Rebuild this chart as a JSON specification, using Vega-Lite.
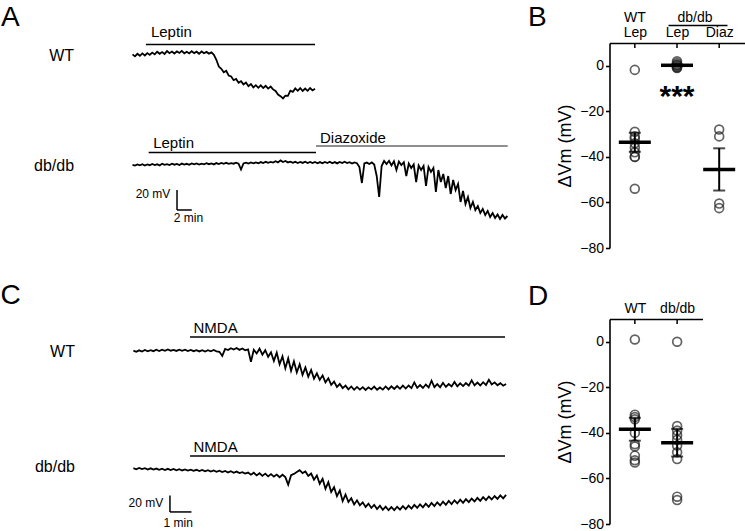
{
"$schema": "https://vega.github.io/schema/vega-lite/v6.json",
"padding": 0,
"background": "white",
"config": {
  "font": "Liberation Sans",
  "view": {"stroke": null},
  "axis": {"labelFont": "Liberation Sans", "titleFont": "Liberation Sans"},
  "text": {"font": "Liberation Sans", "color": "black"}
},
"datasets": {
  "aWT": [{"t":0,"v":0.6},{"t":20,"v":-1.4},{"t":40,"v":1.2},{"t":60,"v":-0.8},{"t":80,"v":1.6},{"t":100,"v":-0.5},{"t":120,"v":1.9},{"t":140,"v":0.1},{"t":160,"v":2.4},{"t":180,"v":0.6},{"t":200,"v":3.3},{"t":220,"v":1.2},{"t":240,"v":3.0},{"t":260,"v":1.1},{"t":280,"v":3.9},{"t":300,"v":1.8},{"t":320,"v":3.4},{"t":340,"v":1.5},{"t":360,"v":3.6},{"t":380,"v":2.0},{"t":400,"v":4.1},{"t":420,"v":1.7},{"t":440,"v":3.2},{"t":460,"v":1.6},{"t":480,"v":3.8},{"t":500,"v":1.9},{"t":520,"v":3.3},{"t":540,"v":1.2},{"t":560,"v":3.5},{"t":580,"v":1.8},{"t":600,"v":3.1},{"t":620,"v":1.4},{"t":640,"v":2.6},{"t":660,"v":0.2},{"t":680,"v":-4.8},{"t":700,"v":-11.6},{"t":720,"v":-13.8},{"t":740,"v":-17.2},{"t":760,"v":-15.8},{"t":780,"v":-20.6},{"t":800,"v":-21.4},{"t":820,"v":-25.2},{"t":840,"v":-24.0},{"t":860,"v":-27.8},{"t":880,"v":-26.2},{"t":900,"v":-29.4},{"t":920,"v":-27.6},{"t":940,"v":-31.2},{"t":960,"v":-29.0},{"t":980,"v":-32.4},{"t":1000,"v":-30.2},{"t":1020,"v":-32.8},{"t":1040,"v":-30.4},{"t":1060,"v":-33.0},{"t":1080,"v":-30.8},{"t":1100,"v":-33.6},{"t":1120,"v":-31.6},{"t":1140,"v":-34.4},{"t":1160,"v":-36.0},{"t":1180,"v":-39.6},{"t":1200,"v":-41.2},{"t":1220,"v":-43.4},{"t":1240,"v":-40.6},{"t":1260,"v":-40.8},{"t":1280,"v":-35.6},{"t":1300,"v":-36.8},{"t":1320,"v":-33.4},{"t":1340,"v":-35.8},{"t":1360,"v":-33.2},{"t":1380,"v":-36.0},{"t":1400,"v":-33.6},{"t":1420,"v":-35.8},{"t":1440,"v":-33.0},{"t":1460,"v":-35.4},{"t":1480,"v":-33.8}],
  "aDB": [{"t":0,"v":-0.8},{"t":20,"v":-1.6},{"t":40,"v":-0.4},{"t":60,"v":-1.3},{"t":80,"v":-0.2},{"t":100,"v":-1.5},{"t":120,"v":-0.5},{"t":140,"v":-1.2},{"t":160,"v":0.0},{"t":180,"v":-1.0},{"t":200,"v":-0.3},{"t":220,"v":-1.4},{"t":240,"v":0.2},{"t":260,"v":-0.9},{"t":280,"v":-0.1},{"t":300,"v":-1.1},{"t":320,"v":0.3},{"t":340,"v":-0.7},{"t":360,"v":0.1},{"t":380,"v":-1.0},{"t":400,"v":0.4},{"t":420,"v":-0.6},{"t":440,"v":0.2},{"t":460,"v":-0.8},{"t":480,"v":0.5},{"t":500,"v":-0.4},{"t":520,"v":0.6},{"t":540,"v":-0.6},{"t":560,"v":0.3},{"t":580,"v":-0.3},{"t":600,"v":0.8},{"t":620,"v":-0.2},{"t":640,"v":0.6},{"t":660,"v":-0.4},{"t":680,"v":0.9},{"t":700,"v":0.0},{"t":720,"v":1.0},{"t":740,"v":0.1},{"t":760,"v":1.2},{"t":780,"v":0.2},{"t":800,"v":0.9},{"t":820,"v":0.3},{"t":840,"v":1.3},{"t":860,"v":0.4},{"t":880,"v":-5.5},{"t":900,"v":0.6},{"t":920,"v":1.4},{"t":940,"v":0.5},{"t":960,"v":1.6},{"t":980,"v":0.7},{"t":1000,"v":1.5},{"t":1020,"v":0.8},{"t":1040,"v":1.9},{"t":1060,"v":0.9},{"t":1080,"v":2.2},{"t":1100,"v":1.2},{"t":1120,"v":2.0},{"t":1140,"v":1.4},{"t":1160,"v":2.8},{"t":1180,"v":1.6},{"t":1200,"v":3.6},{"t":1220,"v":2.0},{"t":1240,"v":3.0},{"t":1260,"v":1.6},{"t":1280,"v":2.4},{"t":1300,"v":1.2},{"t":1320,"v":2.2},{"t":1340,"v":1.0},{"t":1360,"v":2.0},{"t":1380,"v":1.1},{"t":1400,"v":2.3},{"t":1420,"v":1.0},{"t":1440,"v":2.1},{"t":1460,"v":0.9},{"t":1480,"v":2.0},{"t":1500,"v":0.8},{"t":1520,"v":1.9},{"t":1540,"v":0.7},{"t":1560,"v":2.1},{"t":1580,"v":1.0},{"t":1600,"v":2.3},{"t":1620,"v":0.8},{"t":1640,"v":1.9},{"t":1660,"v":0.6},{"t":1680,"v":2.0},{"t":1700,"v":0.9},{"t":1720,"v":2.2},{"t":1740,"v":1.0},{"t":1760,"v":1.8},{"t":1780,"v":0.4},{"t":1800,"v":1.6},{"t":1820,"v":0.8},{"t":1840,"v":-3.0},{"t":1860,"v":-19.0},{"t":1880,"v":0.5},{"t":1900,"v":1.4},{"t":1920,"v":0.0},{"t":1940,"v":1.6},{"t":1960,"v":-0.5},{"t":1980,"v":-12.0},{"t":2000,"v":-33.0},{"t":2020,"v":-2.0},{"t":2040,"v":3.0},{"t":2060,"v":0.0},{"t":2080,"v":3.2},{"t":2100,"v":-1.5},{"t":2120,"v":2.8},{"t":2140,"v":-6.0},{"t":2160,"v":2.4},{"t":2180,"v":-1.0},{"t":2200,"v":1.8},{"t":2220,"v":-12.0},{"t":2240,"v":0.5},{"t":2260,"v":-4.0},{"t":2280,"v":-0.5},{"t":2300,"v":-18.0},{"t":2320,"v":-1.5},{"t":2340,"v":-6.0},{"t":2360,"v":-2.0},{"t":2380,"v":-22.0},{"t":2400,"v":-3.0},{"t":2420,"v":-8.0},{"t":2440,"v":-4.0},{"t":2460,"v":-28.0},{"t":2480,"v":-6.0},{"t":2500,"v":-18.0},{"t":2520,"v":-10.0},{"t":2540,"v":-24.0},{"t":2560,"v":-12.0},{"t":2580,"v":-30.0},{"t":2600,"v":-16.0},{"t":2620,"v":-26.0},{"t":2640,"v":-20.0},{"t":2660,"v":-38.0},{"t":2680,"v":-27.0},{"t":2700,"v":-40.0},{"t":2720,"v":-33.0},{"t":2740,"v":-44.0},{"t":2760,"v":-38.0},{"t":2780,"v":-46.0},{"t":2800,"v":-42.0},{"t":2820,"v":-49.0},{"t":2840,"v":-45.0},{"t":2860,"v":-51.0},{"t":2880,"v":-47.0},{"t":2900,"v":-53.0},{"t":2920,"v":-49.0},{"t":2940,"v":-54.0},{"t":2960,"v":-50.5},{"t":2980,"v":-55.0},{"t":3000,"v":-51.0},{"t":3020,"v":-54.5},{"t":3040,"v":-52.0}],
  "cWT": [{"t":0,"v":0.5},{"t":8,"v":-1.0},{"t":16,"v":0.8},{"t":24,"v":-0.6},{"t":32,"v":1.2},{"t":40,"v":-0.4},{"t":48,"v":1.0},{"t":56,"v":-0.2},{"t":64,"v":1.5},{"t":72,"v":0.0},{"t":80,"v":1.6},{"t":88,"v":0.2},{"t":96,"v":1.8},{"t":104,"v":0.4},{"t":112,"v":1.4},{"t":120,"v":0.1},{"t":128,"v":1.7},{"t":136,"v":0.3},{"t":144,"v":1.5},{"t":152,"v":0.0},{"t":160,"v":1.3},{"t":168,"v":-0.2},{"t":176,"v":1.1},{"t":184,"v":-0.5},{"t":192,"v":1.0},{"t":200,"v":-0.6},{"t":208,"v":0.9},{"t":216,"v":-0.3},{"t":224,"v":1.2},{"t":232,"v":-0.4},{"t":240,"v":-1.0},{"t":248,"v":-6.0},{"t":256,"v":2.5},{"t":264,"v":1.2},{"t":272,"v":3.4},{"t":280,"v":1.8},{"t":288,"v":3.6},{"t":296,"v":1.4},{"t":304,"v":3.0},{"t":312,"v":0.8},{"t":320,"v":2.0},{"t":328,"v":-13.0},{"t":336,"v":1.5},{"t":344,"v":-3.0},{"t":352,"v":2.8},{"t":360,"v":-4.5},{"t":368,"v":1.0},{"t":376,"v":-7.0},{"t":384,"v":-1.5},{"t":392,"v":-12.0},{"t":400,"v":-2.0},{"t":408,"v":-16.0},{"t":416,"v":-6.5},{"t":424,"v":-21.0},{"t":432,"v":-9.0},{"t":440,"v":-24.0},{"t":448,"v":-12.5},{"t":456,"v":-26.0},{"t":464,"v":-16.0},{"t":472,"v":-29.0},{"t":480,"v":-20.0},{"t":488,"v":-31.0},{"t":496,"v":-23.0},{"t":504,"v":-33.5},{"t":512,"v":-27.0},{"t":520,"v":-35.0},{"t":528,"v":-29.5},{"t":536,"v":-38.0},{"t":544,"v":-33.0},{"t":552,"v":-41.0},{"t":560,"v":-37.0},{"t":568,"v":-43.5},{"t":576,"v":-40.0},{"t":584,"v":-45.0},{"t":592,"v":-42.0},{"t":600,"v":-46.5},{"t":608,"v":-43.0},{"t":616,"v":-47.0},{"t":624,"v":-43.5},{"t":632,"v":-46.8},{"t":640,"v":-43.8},{"t":648,"v":-47.2},{"t":656,"v":-44.0},{"t":664,"v":-46.5},{"t":672,"v":-43.2},{"t":680,"v":-47.0},{"t":688,"v":-44.2},{"t":696,"v":-46.8},{"t":704,"v":-43.0},{"t":712,"v":-46.5},{"t":720,"v":-42.8},{"t":728,"v":-46.0},{"t":736,"v":-42.5},{"t":744,"v":-45.8},{"t":752,"v":-42.0},{"t":760,"v":-45.5},{"t":768,"v":-41.8},{"t":776,"v":-45.0},{"t":784,"v":-38.0},{"t":792,"v":-44.6},{"t":800,"v":-41.2},{"t":808,"v":-44.8},{"t":816,"v":-40.6},{"t":824,"v":-44.2},{"t":832,"v":-36.0},{"t":840,"v":-43.8},{"t":848,"v":-40.2},{"t":856,"v":-44.0},{"t":864,"v":-38.5},{"t":872,"v":-43.5},{"t":880,"v":-40.0},{"t":888,"v":-43.0},{"t":896,"v":-37.5},{"t":904,"v":-42.8},{"t":912,"v":-39.2},{"t":920,"v":-42.5},{"t":928,"v":-38.8},{"t":936,"v":-42.0},{"t":944,"v":-35.5},{"t":952,"v":-41.6},{"t":960,"v":-38.2},{"t":968,"v":-41.8},{"t":976,"v":-37.8},{"t":984,"v":-41.2},{"t":992,"v":-35.0},{"t":1000,"v":-40.6},{"t":1008,"v":-38.0},{"t":1016,"v":-41.5},{"t":1024,"v":-39.0},{"t":1032,"v":-42.0},{"t":1040,"v":-40.0}],
  "cDB": [{"t":0,"v":1.0},{"t":8,"v":-0.4},{"t":16,"v":1.2},{"t":24,"v":-0.2},{"t":32,"v":0.9},{"t":40,"v":-0.6},{"t":48,"v":0.8},{"t":56,"v":-0.8},{"t":64,"v":0.5},{"t":72,"v":-1.0},{"t":80,"v":0.4},{"t":88,"v":-1.2},{"t":96,"v":0.2},{"t":104,"v":-1.3},{"t":112,"v":0.0},{"t":120,"v":-1.6},{"t":128,"v":-0.2},{"t":136,"v":-1.8},{"t":144,"v":-0.5},{"t":152,"v":-2.0},{"t":160,"v":-0.8},{"t":168,"v":-2.2},{"t":176,"v":-1.0},{"t":184,"v":-2.6},{"t":192,"v":-1.2},{"t":200,"v":-2.8},{"t":208,"v":-1.5},{"t":216,"v":-3.2},{"t":224,"v":-1.8},{"t":232,"v":-3.4},{"t":240,"v":-2.0},{"t":248,"v":-3.8},{"t":256,"v":-2.4},{"t":264,"v":-4.2},{"t":272,"v":-2.8},{"t":280,"v":-4.6},{"t":288,"v":-3.2},{"t":296,"v":-5.0},{"t":304,"v":-3.8},{"t":312,"v":-5.6},{"t":320,"v":-4.4},{"t":328,"v":-7.0},{"t":336,"v":-4.6},{"t":344,"v":-7.8},{"t":352,"v":-5.2},{"t":360,"v":-8.4},{"t":368,"v":-5.6},{"t":376,"v":-9.0},{"t":384,"v":-6.2},{"t":392,"v":-9.2},{"t":400,"v":-6.8},{"t":408,"v":-10.0},{"t":416,"v":-7.0},{"t":424,"v":-9.8},{"t":432,"v":-19.0},{"t":440,"v":-7.5},{"t":448,"v":-6.0},{"t":456,"v":-3.8},{"t":464,"v":-1.5},{"t":472,"v":-5.0},{"t":480,"v":-3.0},{"t":488,"v":-8.5},{"t":496,"v":-5.5},{"t":504,"v":-13.0},{"t":512,"v":-8.0},{"t":520,"v":-18.0},{"t":528,"v":-12.0},{"t":536,"v":-24.0},{"t":544,"v":-16.0},{"t":552,"v":-28.0},{"t":560,"v":-22.0},{"t":568,"v":-33.0},{"t":576,"v":-26.0},{"t":584,"v":-39.0},{"t":592,"v":-31.0},{"t":600,"v":-40.0},{"t":608,"v":-35.5},{"t":616,"v":-43.0},{"t":624,"v":-38.0},{"t":632,"v":-44.0},{"t":640,"v":-40.5},{"t":648,"v":-46.0},{"t":656,"v":-42.0},{"t":664,"v":-47.2},{"t":672,"v":-43.5},{"t":680,"v":-48.6},{"t":688,"v":-44.5},{"t":696,"v":-49.5},{"t":704,"v":-45.6},{"t":712,"v":-50.0},{"t":720,"v":-46.2},{"t":728,"v":-49.8},{"t":736,"v":-45.8},{"t":744,"v":-49.2},{"t":752,"v":-45.0},{"t":760,"v":-48.6},{"t":768,"v":-44.4},{"t":776,"v":-48.0},{"t":784,"v":-43.6},{"t":792,"v":-47.2},{"t":800,"v":-42.8},{"t":808,"v":-46.6},{"t":816,"v":-42.0},{"t":824,"v":-45.8},{"t":832,"v":-41.2},{"t":840,"v":-45.0},{"t":848,"v":-40.4},{"t":856,"v":-44.2},{"t":864,"v":-39.6},{"t":872,"v":-43.4},{"t":880,"v":-38.8},{"t":888,"v":-42.6},{"t":896,"v":-38.0},{"t":904,"v":-41.8},{"t":912,"v":-37.2},{"t":920,"v":-41.0},{"t":928,"v":-36.5},{"t":936,"v":-40.2},{"t":944,"v":-35.8},{"t":952,"v":-39.4},{"t":960,"v":-35.0},{"t":968,"v":-38.6},{"t":976,"v":-34.2},{"t":984,"v":-37.8},{"t":992,"v":-33.4},{"t":1000,"v":-37.0},{"t":1008,"v":-32.8},{"t":1016,"v":-36.2},{"t":1024,"v":-32.0},{"t":1032,"v":-35.6},{"t":1040,"v":-31.5}],
  "B": [{"g":"WT Lep","dvm":-1.8},{"g":"WT Lep","dvm":-29},{"g":"WT Lep","dvm":-31},{"g":"WT Lep","dvm":-32},{"g":"WT Lep","dvm":-34},{"g":"WT Lep","dvm":-36},{"g":"WT Lep","dvm":-38},{"g":"WT Lep","dvm":-40},{"g":"WT Lep","dvm":-40},{"g":"WT Lep","dvm":-54},
        {"g":"db/db Lep","dvm":2},{"g":"db/db Lep","dvm":1.2},{"g":"db/db Lep","dvm":0.5},{"g":"db/db Lep","dvm":0},{"g":"db/db Lep","dvm":-0.5},{"g":"db/db Lep","dvm":-1},{"g":"db/db Lep","dvm":-0.8},{"g":"db/db Lep","dvm":0.3},
        {"g":"db/db Diaz","dvm":-28},{"g":"db/db Diaz","dvm":-31},{"g":"db/db Diaz","dvm":-60.5},{"g":"db/db Diaz","dvm":-62.5}],
  "D": [{"g":"WT","dvm":1},{"g":"WT","dvm":-32},{"g":"WT","dvm":-33},{"g":"WT","dvm":-34},{"g":"WT","dvm":-40},{"g":"WT","dvm":-45},{"g":"WT","dvm":-46},{"g":"WT","dvm":-50},{"g":"WT","dvm":-52},{"g":"WT","dvm":-53},
        {"g":"db/db","dvm":0},{"g":"db/db","dvm":-37},{"g":"db/db","dvm":-39},{"g":"db/db","dvm":-41},{"g":"db/db","dvm":-43},{"g":"db/db","dvm":-45.5},{"g":"db/db","dvm":-48.5},{"g":"db/db","dvm":-51.5},{"g":"db/db","dvm":-68},{"g":"db/db","dvm":-69.5}]
},
"hconcat": [
  {
    "vconcat": [
      {
        "width": 540, "height": 110,
        "layer": [
          {"data": {"name": "aWT"}, "mark": {"type": "line", "color": "black", "strokeWidth": 1.8},
           "encoding": {"x": {"field": "t", "type": "quantitative", "scale": {"domain": [-1074.3, 3304.1], "nice": false, "zero": false}, "axis": null},
                        "y": {"field": "v", "type": "quantitative", "scale": {"domain": [-55, 55], "nice": false, "zero": false}, "axis": null}}},
          {"data": {"values": [{"drug": "Leptin", "start": 109, "end": 1480}]}, "mark": {"type": "rule", "color": "black", "strokeWidth": 1.6},
           "encoding": {"x": {"field": "start", "type": "quantitative"}, "x2": {"field": "end"}, "y": {"datum": 10.5}}},
          {"data": {"values": [{"drug": "Leptin", "start": 109, "end": 1480}]}, "mark": {"type": "text", "align": "left", "baseline": "alphabetic", "fontSize": 15, "dx": 5},
           "encoding": {"x": {"field": "start", "type": "quantitative"}, "y": {"datum": 18}, "text": {"field": "drug"}}},
          {"data": {"values": [{"label": "WT"}]}, "mark": {"type": "text", "align": "right", "baseline": "middle", "fontSize": 16},
           "encoding": {"x": {"datum": -474}, "y": {"datum": -1}, "text": {"field": "label"}}},
          {"data": {"values": [{"panel": "A"}]}, "mark": {"type": "text", "align": "left", "baseline": "alphabetic", "fontSize": 28},
           "encoding": {"x": {"datum": -1066}, "y": {"datum": 29}, "text": {"field": "panel"}}}
        ]
      },
      {
        "width": 540, "height": 126,
        "layer": [
          {"data": {"name": "aDB"}, "mark": {"type": "line", "color": "black", "strokeWidth": 1.8},
           "encoding": {"x": {"field": "t", "type": "quantitative", "scale": {"domain": [-1074.3, 3304.1], "nice": false, "zero": false}, "axis": null},
                        "y": {"field": "v", "type": "quantitative", "scale": {"domain": [-72, 54], "nice": false, "zero": false}, "axis": null}}},
          {"data": {"values": [{"drug": "Leptin", "start": 131, "end": 1488}]}, "mark": {"type": "rule", "color": "black", "strokeWidth": 1.6},
           "encoding": {"x": {"field": "start", "type": "quantitative"}, "x2": {"field": "end"}, "y": {"datum": 11.5}}},
          {"data": {"values": [{"drug": "Leptin", "start": 131, "end": 1488}]}, "mark": {"type": "text", "align": "left", "baseline": "alphabetic", "fontSize": 15, "dx": 4.5},
           "encoding": {"x": {"field": "start", "type": "quantitative"}, "y": {"datum": 16}, "text": {"field": "drug"}}},
          {"data": {"values": [{"drug": "Diazoxide", "start": 1488, "end": 3042}]}, "mark": {"type": "rule", "color": "#6a6a6a", "strokeWidth": 1.5},
           "encoding": {"x": {"field": "start", "type": "quantitative"}, "x2": {"field": "end"}, "y": {"datum": 18}}},
          {"data": {"values": [{"drug": "Diazoxide", "start": 1488, "end": 3042}]}, "mark": {"type": "text", "align": "left", "baseline": "alphabetic", "fontSize": 15, "dx": 4},
           "encoding": {"x": {"field": "start", "type": "quantitative"}, "y": {"datum": 21}, "text": {"field": "drug"}}},
          {"data": {"values": [{"label": "db/db"}]}, "mark": {"type": "text", "align": "right", "baseline": "middle", "fontSize": 16},
           "encoding": {"x": {"datum": -474}, "y": {"datum": -2}, "text": {"field": "label"}}},
          {"data": {"values": [{"bar": "20 mV"}]}, "mark": {"type": "rule", "color": "black", "strokeWidth": 1.5},
           "encoding": {"x": {"datum": 361}, "y": {"datum": -26}, "y2": {"datum": -46}}},
          {"data": {"values": [{"bar": "2 min"}]}, "mark": {"type": "rule", "color": "black", "strokeWidth": 1.5},
           "encoding": {"x": {"datum": 361}, "x2": {"datum": 481}, "y": {"datum": -46}}},
          {"data": {"values": [{"bar": "20 mV"}]}, "mark": {"type": "text", "align": "right", "baseline": "middle", "fontSize": 12},
           "encoding": {"x": {"datum": 307}, "y": {"datum": -30}, "text": {"field": "bar"}}},
          {"data": {"values": [{"bar": "2 min"}]}, "mark": {"type": "text", "align": "center", "baseline": "alphabetic", "fontSize": 12},
           "encoding": {"x": {"datum": 454}, "y": {"datum": -58}, "text": {"field": "bar"}}}
        ]
      },
      {
        "width": 540, "height": 174,
        "layer": [
          {"data": {"name": "cWT"}, "mark": {"type": "line", "color": "black", "strokeWidth": 1.8},
           "encoding": {"x": {"field": "t", "type": "quantitative", "scale": {"domain": [-372.3, 1134.7], "nice": false, "zero": false}, "axis": null},
                        "y": {"field": "v", "type": "quantitative", "scale": {"domain": [-71.5, 139.4], "nice": false, "zero": false}, "axis": null}}},
          {"data": {"values": [{"drug": "NMDA", "start": 158, "end": 1037}]}, "mark": {"type": "rule", "color": "black", "strokeWidth": 1.6},
           "encoding": {"x": {"field": "start", "type": "quantitative"}, "x2": {"field": "end"}, "y": {"datum": 17}}},
          {"data": {"values": [{"drug": "NMDA", "start": 158, "end": 1037}]}, "mark": {"type": "text", "align": "left", "baseline": "alphabetic", "fontSize": 15, "dx": 3.5},
           "encoding": {"x": {"field": "start", "type": "quantitative"}, "y": {"datum": 21.8}, "text": {"field": "drug"}}},
          {"data": {"values": [{"label": "WT"}]}, "mark": {"type": "text", "align": "right", "baseline": "middle", "fontSize": 16},
           "encoding": {"x": {"datum": -163}, "y": {"datum": -1.8}, "text": {"field": "label"}}},
          {"data": {"values": [{"panel": "C"}]}, "mark": {"type": "text", "align": "left", "baseline": "alphabetic", "fontSize": 28},
           "encoding": {"x": {"datum": -371}, "y": {"datum": 57}, "text": {"field": "panel"}}}
        ]
      },
      {
        "width": 540, "height": 121,
        "layer": [
          {"data": {"name": "cDB"}, "mark": {"type": "line", "color": "black", "strokeWidth": 1.8},
           "encoding": {"x": {"field": "t", "type": "quantitative", "scale": {"domain": [-372.3, 1134.7], "nice": false, "zero": false}, "axis": null},
                        "y": {"field": "v", "type": "quantitative", "scale": {"domain": [-75.2, 71.5], "nice": false, "zero": false}, "axis": null}}},
          {"data": {"values": [{"drug": "NMDA", "start": 158, "end": 1037}]}, "mark": {"type": "rule", "color": "black", "strokeWidth": 1.6},
           "encoding": {"x": {"field": "start", "type": "quantitative"}, "x2": {"field": "end"}, "y": {"datum": 15.8}}},
          {"data": {"values": [{"drug": "NMDA", "start": 158, "end": 1037}]}, "mark": {"type": "text", "align": "left", "baseline": "alphabetic", "fontSize": 15, "dx": 3.5},
           "encoding": {"x": {"field": "start", "type": "quantitative"}, "y": {"datum": 20}, "text": {"field": "drug"}}},
          {"data": {"values": [{"label": "db/db"}]}, "mark": {"type": "text", "align": "right", "baseline": "middle", "fontSize": 16},
           "encoding": {"x": {"datum": -163}, "y": {"datum": 1.8}, "text": {"field": "label"}}},
          {"data": {"values": [{"bar": "20 mV"}]}, "mark": {"type": "rule", "color": "black", "strokeWidth": 1.5},
           "encoding": {"x": {"datum": 102}, "y": {"datum": -32.1}, "y2": {"datum": -52.1}}},
          {"data": {"values": [{"bar": "1 min"}]}, "mark": {"type": "rule", "color": "black", "strokeWidth": 1.5},
           "encoding": {"x": {"datum": 102}, "x2": {"datum": 162}, "y": {"datum": -52.1}}},
          {"data": {"values": [{"bar": "20 mV"}]}, "mark": {"type": "text", "align": "right", "baseline": "middle", "fontSize": 12},
           "encoding": {"x": {"datum": 83}, "y": {"datum": -41.2}, "text": {"field": "bar"}}},
          {"data": {"values": [{"bar": "1 min"}]}, "mark": {"type": "text", "align": "center", "baseline": "alphabetic", "fontSize": 12},
           "encoding": {"x": {"datum": 125}, "y": {"datum": -70.3}, "text": {"field": "bar"}}}
        ]
      }
    ],
    "spacing": 0,
    "bounds": "flush",
    "resolve": {"scale": {"x": "independent", "y": "independent"}}
  },
  {
    "vconcat": [
      {
        "width": 135, "height": 43,
        "layer": [
          {"data": {"values": [{"g": "WT Lep", "label": "WT"}]}, "mark": {"type": "text", "fontSize": 14, "align": "center", "baseline": "alphabetic"},
           "encoding": {"x": {"field": "g", "type": "nominal", "scale": {"type": "point", "domain": ["WT Lep", "db/db Lep", "db/db Diaz"], "padding": 0.6}, "axis": null}, "text": {"field": "label"}}},
          {"data": {"values": [{"g": "db/db Lep", "label": "db/db"}]}, "mark": {"type": "text", "fontSize": 14, "align": "center", "baseline": "alphabetic", "dx": 18},
           "encoding": {"x": {"field": "g", "type": "nominal"}, "text": {"field": "label"}}},
          {"data": {"values": [{"g": "db/db Lep", "g2": "db/db Diaz"}]}, "mark": {"type": "rule", "color": "black", "strokeWidth": 1.5, "xOffset": -8.5, "x2Offset": 8.3, "yOffset": 4},
           "encoding": {"x": {"field": "g", "type": "nominal"}, "x2": {"field": "g2"}}},
          {"data": {"values": [{"g": "WT Lep", "panel": "B"}]}, "mark": {"type": "text", "fontSize": 28, "align": "left", "baseline": "alphabetic", "dx": -106.8125, "dy": 4.5},
           "encoding": {"x": {"field": "g", "type": "nominal"}, "text": {"field": "panel"}}}
        ]
      },
      {
        "width": 135, "height": 205,
        "data": {"name": "B"},
        "layer": [
          {"mark": {"type": "point", "shape": "circle", "filled": false, "size": 78, "strokeWidth": 1.7, "color": "#222222"},
           "encoding": {
             "x": {"field": "g", "type": "nominal", "scale": {"type": "point", "domain": ["WT Lep", "db/db Lep", "db/db Diaz"], "padding": 0.6},
                   "axis": {"orient": "top", "title": null, "ticks": false, "tickSize": 0, "labelPadding": 4, "labelAngle": 0, "labelFontSize": 14, "labelColor": "black", "domainColor": "black", "domainWidth": 1.6, "labelExpr": "split(datum.label, ' ')[1]"}},
             "y": {"field": "dvm", "type": "quantitative", "title": "ΔVm (mV)", "scale": {"domain": [-80, 10], "nice": false, "zero": false},
                   "axis": {"values": [0, -20, -40, -60, -80], "title": "ΔVm (mV)", "titleFontSize": 18, "titleFontWeight": "normal", "titleColor": "black", "titlePadding": 5, "labelFontSize": 14, "labelColor": "black", "labelPadding": 2, "tickColor": "black", "tickSize": 4, "tickWidth": 1.6, "domainColor": "black", "domainWidth": 1.6, "grid": false}}}},
          {"mark": {"type": "errorbar", "extent": "stderr", "color": "black", "thickness": 2, "ticks": {"size": 12, "thickness": 2}},
           "encoding": {"x": {"field": "g", "type": "nominal"}, "y": {"field": "dvm", "type": "quantitative", "title": "ΔVm (mV)"}}},
          {"mark": {"type": "tick", "color": "black", "thickness": 3.5, "size": 32},
           "encoding": {"x": {"field": "g", "type": "nominal"}, "y": {"field": "dvm", "aggregate": "mean", "type": "quantitative", "title": "ΔVm (mV)"}}},
          {"data": {"values": [{"g": "db/db Lep", "sig": "***"}]}, "mark": {"type": "text", "fontSize": 30, "fontWeight": "bold", "baseline": "middle", "align": "center"},
           "encoding": {"x": {"field": "g", "type": "nominal"}, "y": {"datum": -13.5}, "text": {"field": "sig"}}},
          {"data": {"values": [{"g": "WT Lep"}, {"g": "db/db Lep"}, {"g": "db/db Diaz"}]}, "mark": {"type": "rule", "color": "black", "strokeWidth": 1.5},
           "encoding": {"x": {"field": "g", "type": "nominal"}, "y": {"datum": 10}, "y2": {"datum": 7.8}}}
        ]
      },
      {
        "width": 93, "height": 71,
        "data": {"values": [{"g": "WT", "panel": "D"}]},
        "mark": {"type": "text", "fontSize": 28, "align": "left", "baseline": "alphabetic", "dx": -106.8636, "dy": 21},
        "encoding": {"x": {"field": "g", "type": "nominal", "scale": {"type": "point", "domain": ["WT", "db/db"], "padding": 0.6}, "axis": null}, "text": {"field": "panel"}}
      },
      {
        "width": 93, "height": 205,
        "data": {"name": "D"},
        "layer": [
          {"mark": {"type": "point", "shape": "circle", "filled": false, "size": 78, "strokeWidth": 1.7, "color": "#222222"},
           "encoding": {
             "x": {"field": "g", "type": "nominal", "scale": {"type": "point", "domain": ["WT", "db/db"], "padding": 0.6},
                   "axis": {"orient": "top", "title": null, "ticks": false, "tickSize": 0, "labelPadding": 4, "labelAngle": 0, "labelFontSize": 14, "labelColor": "black", "domainColor": "black", "domainWidth": 1.6}},
             "y": {"field": "dvm", "type": "quantitative", "title": "ΔVm (mV)", "scale": {"domain": [-80, 10], "nice": false, "zero": false},
                   "axis": {"values": [0, -20, -40, -60, -80], "title": "ΔVm (mV)", "titleFontSize": 18, "titleFontWeight": "normal", "titleColor": "black", "titlePadding": 5, "labelFontSize": 14, "labelColor": "black", "labelPadding": 2, "tickColor": "black", "tickSize": 4, "tickWidth": 1.6, "domainColor": "black", "domainWidth": 1.6, "grid": false}}}},
          {"mark": {"type": "errorbar", "extent": "stderr", "color": "black", "thickness": 2, "ticks": {"size": 12, "thickness": 2}},
           "encoding": {"x": {"field": "g", "type": "nominal"}, "y": {"field": "dvm", "type": "quantitative", "title": "ΔVm (mV)"}}},
          {"mark": {"type": "tick", "color": "black", "thickness": 3.5, "size": 32},
           "encoding": {"x": {"field": "g", "type": "nominal"}, "y": {"field": "dvm", "aggregate": "mean", "type": "quantitative", "title": "ΔVm (mV)"}}},
          {"data": {"values": [{"g": "WT"}, {"g": "db/db"}]}, "mark": {"type": "rule", "color": "black", "strokeWidth": 1.5},
           "encoding": {"x": {"field": "g", "type": "nominal"}, "y": {"datum": 10}, "y2": {"datum": 7.8}}}
        ]
      }
    ],
    "spacing": 0,
    "bounds": "flush",
    "resolve": {"scale": {"x": "independent", "y": "independent"}}
  }
],
"spacing": -12.5,
"bounds": "full",
"resolve": {"scale": {"x": "independent", "y": "independent"}}
}
